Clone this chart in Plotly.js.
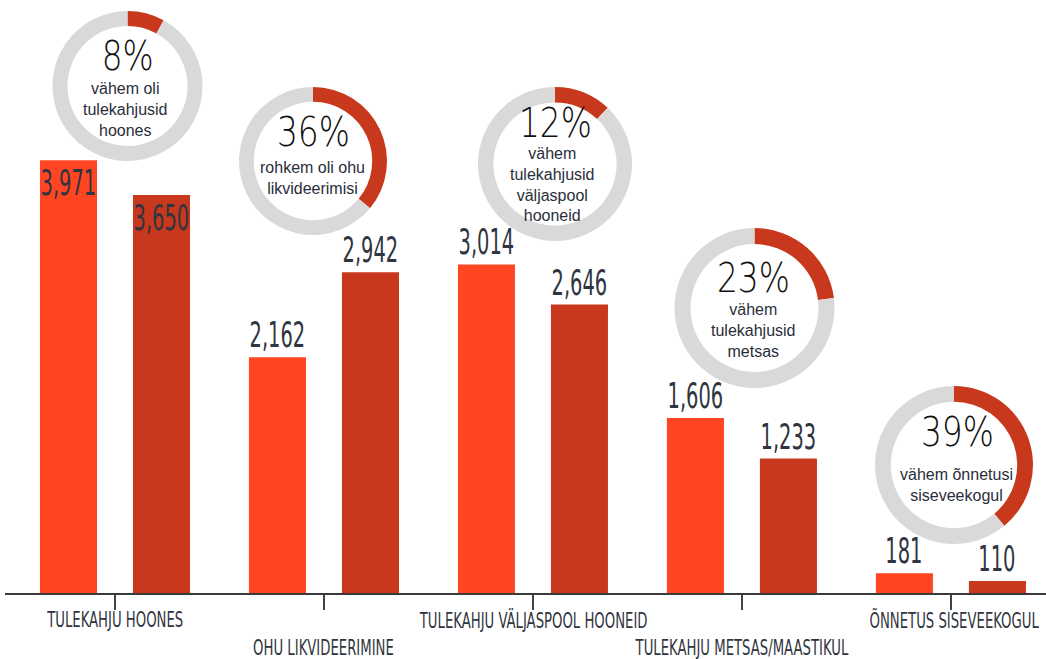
<!DOCTYPE html>
<html>
<head>
<meta charset="utf-8">
<script src="https://cdn.plot.ly/plotly-3.0.1.min.js"></script>
<style>html,body{margin:0;padding:0;background:#fff;}#chart{width:1046px;height:659px;}</style>
</head>
<body>
<div id="chart"></div>
<script>
// ---- data ----
const categories = ["TULEKAHJU HOONES", "OHU LIKVIDEERIMINE", "TULEKAHJU VÄLJASPOOL HOONEID", "TULEKAHJU METSAS/MAASTIKUL", "ÕNNETUS SISEVEEKOGUL"];
const seriesA = [3971, 2162, 3014, 1606, 181];   // earlier year
const seriesB = [3650, 2942, 2646, 1233, 110];   // later year
const changePct = [8, 36, 12, 23, 39];
const changeText = [
  "vähem oli<br>tulekahjusid<br>hoones",
  "rohkem oli ohu<br>likvideerimisi",
  "vähem<br>tulekahjusid<br>väljaspool<br>hooneid",
  "vähem<br>tulekahjusid<br>metsas",
  "vähem õnnetusi<br>siseveekogul"
];
const labelInside = [true, false, false, false, false];

// ---- layout helpers ----
const W = 1046, H = 659;
const M = {l: 5, r: 0, t: 0, b: 66};
const PW = W - M.l - M.r, PH = H - M.t - M.b;
const px = x => (x - M.l) / PW;
const py = y => 1 - (y - M.t) / PH;

const colA = "#FF4522", colB = "#C8381C", ringGrey = "#D9D9D9";
const textDark = "#2F3540";
const narrow = "DejaVu Sans Condensed, DejaVu Sans, sans-serif";
const light = "DejaVu Sans, sans-serif";
const sans = "Liberation Sans, Arial, sans-serif";

const idx = categories.map((_, i) => i);
const barW = 0.273;

const traces = [
  {type: "bar", x: idx, y: seriesA, width: barW, offset: -0.359, marker: {color: colA}, hoverinfo: "none", showlegend: false},
  {type: "bar", x: idx, y: seriesB, width: barW, offset: 0.086, marker: {color: colB}, hoverinfo: "none", showlegend: false}
];

// donut geometry (pixel centre & radius)
const donutGeom = [
  {cx: 127.5, cy: 86, r: 75},
  {cx: 313, cy: 161, r: 74},
  {cx: 555, cy: 164, r: 77},
  {cx: 754.5, cy: 308, r: 80},
  {cx: 954, cy: 465, r: 79}
];
const pctPos = [[127, 56], [313, 132], [555, 123], [753, 278], [957, 432]];
const subPos = [[125, 110], [312, 178], [552, 184], [753, 330], [956, 485]];

changePct.forEach((p, i) => {
  const g = donutGeom[i];
  traces.push({
    type: "pie", values: [p, 100 - p], hole: 0.8, sort: false, direction: "clockwise", rotation: 0,
    marker: {colors: [colB, ringGrey], line: {width: 0}},
    textinfo: "none", hoverinfo: "none", showlegend: false,
    domain: {x: [px(g.cx - g.r), px(g.cx + g.r)], y: [py(g.cy + g.r), py(g.cy - g.r)]}
  });
});

const annotations = [];
const squeeze = {};  // annotation index -> horizontal compression factor
const fmt = v => v.toLocaleString("en-US");
const last = categories.length - 1;
idx.forEach(i => {
  [[seriesA, -0.2225], [seriesB, 0.2225]].forEach(([s, off]) => {
    const inside = labelInside[i];
    squeeze[annotations.length] = 0.6;
    annotations.push({
      x: i + off, y: s[i], xref: "x", yref: "y", text: fmt(s[i]), showarrow: false,
      xanchor: "center", yanchor: inside ? "top" : "bottom", yshift: inside ? -1 : 1, borderpad: 0,
      font: {family: narrow, size: 36, color: textDark}
    });
  });
  squeeze[annotations.length] = 0.7;
  const isLast = i === last;
  annotations.push({
    x: i, y: 0, xref: "x", yref: "paper", text: categories[i], showarrow: false,
    xanchor: isLast ? "right" : "center", align: isLast ? "right" : "center", xshift: isLast ? 89 : 0,
    yanchor: "middle", yshift: i % 2 === 0 ? -27 : -55, borderpad: 0,
    font: {family: narrow, size: 21, color: textDark}
  });
  squeeze[annotations.length] = 0.82;
  annotations.push({
    x: px(pctPos[i][0]), y: py(pctPos[i][1]), xref: "paper", yref: "paper", text: changePct[i] + "%",
    showarrow: false, xanchor: "center", yanchor: "middle", borderpad: 0,
    font: {family: light, size: 40, weight: 200, color: "#111111"}
  });
  annotations.push({
    x: px(subPos[i][0]), y: py(subPos[i][1]), xref: "paper", yref: "paper", text: changeText[i],
    showarrow: false, xanchor: "center", yanchor: "middle", borderpad: 0,
    font: {family: sans, size: 16, color: "#2A2E3A"}
  });
});

const layout = {
  width: W, height: H, margin: M, paper_bgcolor: "#fff", plot_bgcolor: "#fff",
  barmode: "overlay",
  xaxis: {range: [-0.5263, 4.455], tickvals: idx, ticktext: idx.map(() => ""), ticks: "outside",
          ticklen: 15, tickwidth: 1.5, tickcolor: "#444", showline: true, linecolor: "#3A3A3A", linewidth: 2,
          showgrid: false, zeroline: false, fixedrange: true},
  yaxis: {range: [0, 5440], showgrid: false, zeroline: false, showticklabels: false, showline: false, fixedrange: true},
  annotations: annotations,
  font: {family: sans}
};

Plotly.newPlot("chart", traces, layout, {displayModeBar: false, staticPlot: true}).then(gd => {
  // condense the display-type labels horizontally (the original uses a condensed typeface)
  gd.querySelectorAll("g.annotation").forEach(g => {
    const k = squeeze[+g.getAttribute("data-index")];
    if (!k) return;
    const t = g.querySelector("text.annotation-text");
    if (!t) return;
    const w = t.getComputedTextLength();
    t.setAttribute("textLength", (w * k).toFixed(1));
    t.setAttribute("lengthAdjust", "spacingAndGlyphs");
    const r = g.querySelector("rect.bg");
    if (r) {
      const rw = +r.getAttribute("width"), rx = +r.getAttribute("x");
      const nw = rw - w * (1 - k);
      const anchor = t.getAttribute("text-anchor");
      const dx = anchor === "end" ? (rw - nw) : anchor === "start" ? 0 : (rw - nw) / 2;
      r.setAttribute("x", (rx + dx).toFixed(1));
      r.setAttribute("width", nw.toFixed(1));
    }
  });
});
</script>
</body>
</html>
